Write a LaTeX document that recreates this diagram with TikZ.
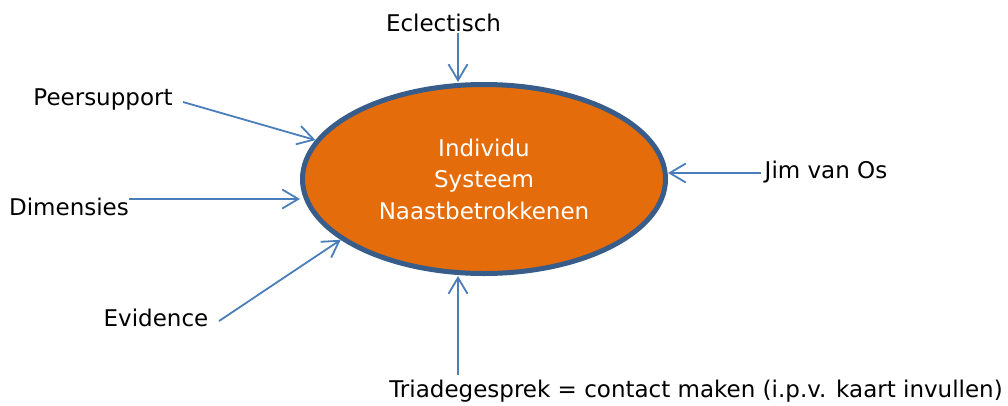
\documentclass[tikz,border=0pt]{standalone}
\usepackage{fontspec}
\setmainfont{DejaVu Sans}
\usetikzlibrary{shapes.geometric,arrows.meta}
\definecolor{orng}{HTML}{E46C0A}
\definecolor{bord}{HTML}{385D8A}
\definecolor{arr}{HTML}{4A7EBB}
\begin{document}
\begin{tikzpicture}[x=1pt,y=-1pt,
  lbl/.style={font=\fontsize{23}{27}\selectfont, inner sep=0pt, anchor=base},
  conn/.style={draw=arr, line width=1.8pt, -{Straight Barb[length=16pt,width=19pt,line width=1.8pt]}},
  hub/.style={ellipse, draw=bord, fill=orng, line width=5pt, minimum width=363pt, minimum height=189pt, inner sep=0pt, text=white, align=center, font=\fontsize{23}{31.5}\selectfont}]
\useasboundingbox (0,0) rectangle (1008,405);
\node[hub] (E) at (484,179) {Individu\\Systeem\\Naastbetrokkenen};
\node[lbl] (ecl) at (443.5,31) {Eclectisch};
\node[lbl] (peer) at (103,105) {Peersupport};
\node[lbl] (dim) at (69,215) {Dimensies};
\node[lbl] (evi) at (156,326) {Evidence};
\node[lbl] (jim) at (826,178) {Jim van Os};
\node[lbl] (tri) at (696,397) {Triadegesprek = contact maken (i.p.v. kaart invullen)};
\coordinate (eclS) at (458,33);
\coordinate (peerS) at (183,102);
\coordinate (dimS) at (129,199);
\coordinate (eviS) at (219,321);
\coordinate (jimS) at (761,173);
\coordinate (triS) at (458,375);
\draw[conn] (eclS) -- (eclS |- E.north);
\draw[conn] (peerS) -- (E.167.8);
\draw[conn] (dimS) -- (dimS -| E.west);
\draw[conn] (eviS) -- (E.203.2);
\draw[conn] (jimS) -- (jimS -| E.east);
\draw[conn] (triS) -- (triS |- E.south);
\end{tikzpicture}
\end{document}
